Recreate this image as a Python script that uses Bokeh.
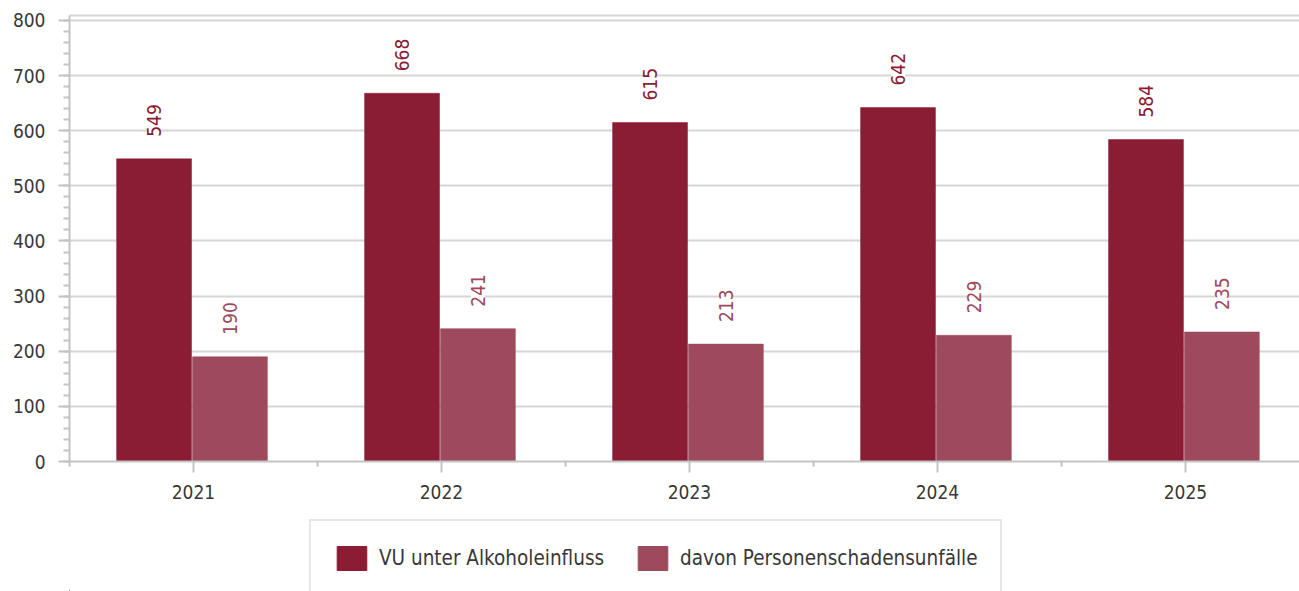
from bokeh.plotting import figure
from bokeh.layouts import column
from bokeh.models import (ColumnDataSource, Range1d, LinearAxis, FixedTicker,
                          SingleIntervalTicker, LabelSet, Legend, LegendItem)
from bokeh.transform import dodge
from bokeh.core.properties import value
from bokeh.embed import file_html
from bokeh.resources import INLINE

years = ["2021", "2022", "2023", "2024", "2025"]
vu_alkohol = [549, 668, 615, 642, 584]
personenschaden = [190, 241, 213, 229, 235]

series_names = ["VU unter Alkoholeinfluss", "davon Personenschadensunfälle"]
DARK = "#8a1c33"
LIGHT = "#9d4a5c"
FONT = "DejaVu Sans Condensed"
TXT = "#383838"
GRID = "#d6d6d6"
AXIS = "#c4c4c4"

centers = [i + 0.5 for i in range(len(years))]
src = ColumnDataSource(dict(
    cx=centers,
    v1=vu_alkohol,
    v2=personenschaden,
    t1=[str(v) for v in vu_alkohol],
    t2=[str(v) for v in personenschaden],
))

p = figure(frame_width=1230, frame_height=446,
           min_border_left=69, min_border_right=0, min_border_top=15, min_border_bottom=45,
           x_range=Range1d(0, 4.96), y_range=Range1d(0, 809.07),
           output_backend="svg", toolbar_location=None)
p.outline_line_color = None
p.background_fill_color = "white"
p.border_fill_color = "white"

OFF1 = -0.159
OFF2 = 0.147
W = 0.302
r1 = p.vbar(x=dodge("cx", OFF1, range=p.x_range), top="v1", width=W, source=src,
            fill_color=DARK, line_color=DARK, line_width=0.5)
r2 = p.vbar(x=dodge("cx", OFF2, range=p.x_range), top="v2", width=W, source=src,
            fill_color=LIGHT, line_color=LIGHT, line_width=0.5)

# grid
p.xgrid.visible = False
p.ygrid.grid_line_color = GRID
p.ygrid.grid_line_width = 2
p.ygrid.ticker = SingleIntervalTicker(interval=100, num_minor_ticks=5)

# y axis
ya = p.yaxis[0]
ya.ticker = SingleIntervalTicker(interval=100, num_minor_ticks=5)
ya.axis_line_color = AXIS
ya.axis_line_width = 2
ya.major_tick_line_color = AXIS
ya.major_tick_line_width = 2
ya.minor_tick_line_color = AXIS
ya.minor_tick_line_width = 2
ya.major_tick_out = 11
ya.major_tick_in = 0
ya.minor_tick_out = 6
ya.minor_tick_in = 0
ya.major_label_standoff = 13
ya.major_label_text_font = FONT
ya.major_label_text_font_size = "19px"
ya.major_label_text_color = TXT

# x axis
xa = p.xaxis[0]
xa.ticker = FixedTicker(ticks=centers, minor_ticks=list(range(len(years) + 1)))
xa.major_label_overrides = {c: y for c, y in zip(centers, years)}
xa.axis_line_color = AXIS
xa.axis_line_width = 2
xa.major_tick_line_color = AXIS
xa.major_tick_line_width = 2
xa.minor_tick_line_color = AXIS
xa.minor_tick_line_width = 2
xa.major_tick_out = 11
xa.major_tick_in = 0
xa.minor_tick_out = 5
xa.minor_tick_in = 0
xa.major_label_standoff = 12
xa.major_label_text_font = FONT
xa.major_label_text_font_size = "19px"
xa.major_label_text_color = TXT

# top border line
top = LinearAxis(ticker=FixedTicker(ticks=[]), axis_line_color=GRID, axis_line_width=2,
                 major_tick_out=0, minor_tick_out=0, major_label_text_font_size="0px")
p.add_layout(top, "above")

# data labels
for col, txt, off, color in [("v1", "t1", OFF1, DARK), ("v2", "t2", OFF2, LIGHT)]:
    ls = LabelSet(x=dodge("cx", off, range=p.x_range), y=col, text=txt, source=src,
                  angle=90, angle_units="deg", text_align="left", text_baseline="middle",
                  y_offset=22, text_font=value(FONT), text_font_size="19px",
                  text_color=color, background_fill_color="white")
    p.add_layout(ls)

# legend strip below the chart
lg = figure(width=1299, height=85, min_border=0,
            x_range=Range1d(0, 1299), y_range=Range1d(0, 85),
            output_backend="svg", toolbar_location=None)
lg.axis.visible = False
lg.grid.visible = False
lg.outline_line_color = None
lg.background_fill_color = "white"
lg.border_fill_color = "white"
# swatch-only renderers, placed outside the visible range
swatch = ColumnDataSource(dict(x=[-5000], top=[1]))
k1 = lg.vbar(x="x", top="top", width=1, source=swatch, fill_color=DARK, line_color=DARK)
k2 = lg.vbar(x="x", top="top", width=1, source=swatch, fill_color=LIGHT, line_color=LIGHT)

legend = Legend(items=[LegendItem(label=series_names[0], renderers=[k1]),
                       LegendItem(label=series_names[1], renderers=[k2])],
                location=(240, -6), orientation="horizontal",
                glyph_width=37, glyph_height=30, label_standoff=9,
                label_width=245, spacing=10, padding=22, margin=0,
                border_line_color="#cfcfcf", border_line_width=2,
                background_fill_color="white", background_fill_alpha=1,
                label_text_font=FONT, label_text_font_size="20.5px",
                label_text_color=TXT)
lg.add_layout(legend, "center")

layout = column(p, lg, spacing=0)
open("out.html", "w").write(file_html(layout, INLINE))
